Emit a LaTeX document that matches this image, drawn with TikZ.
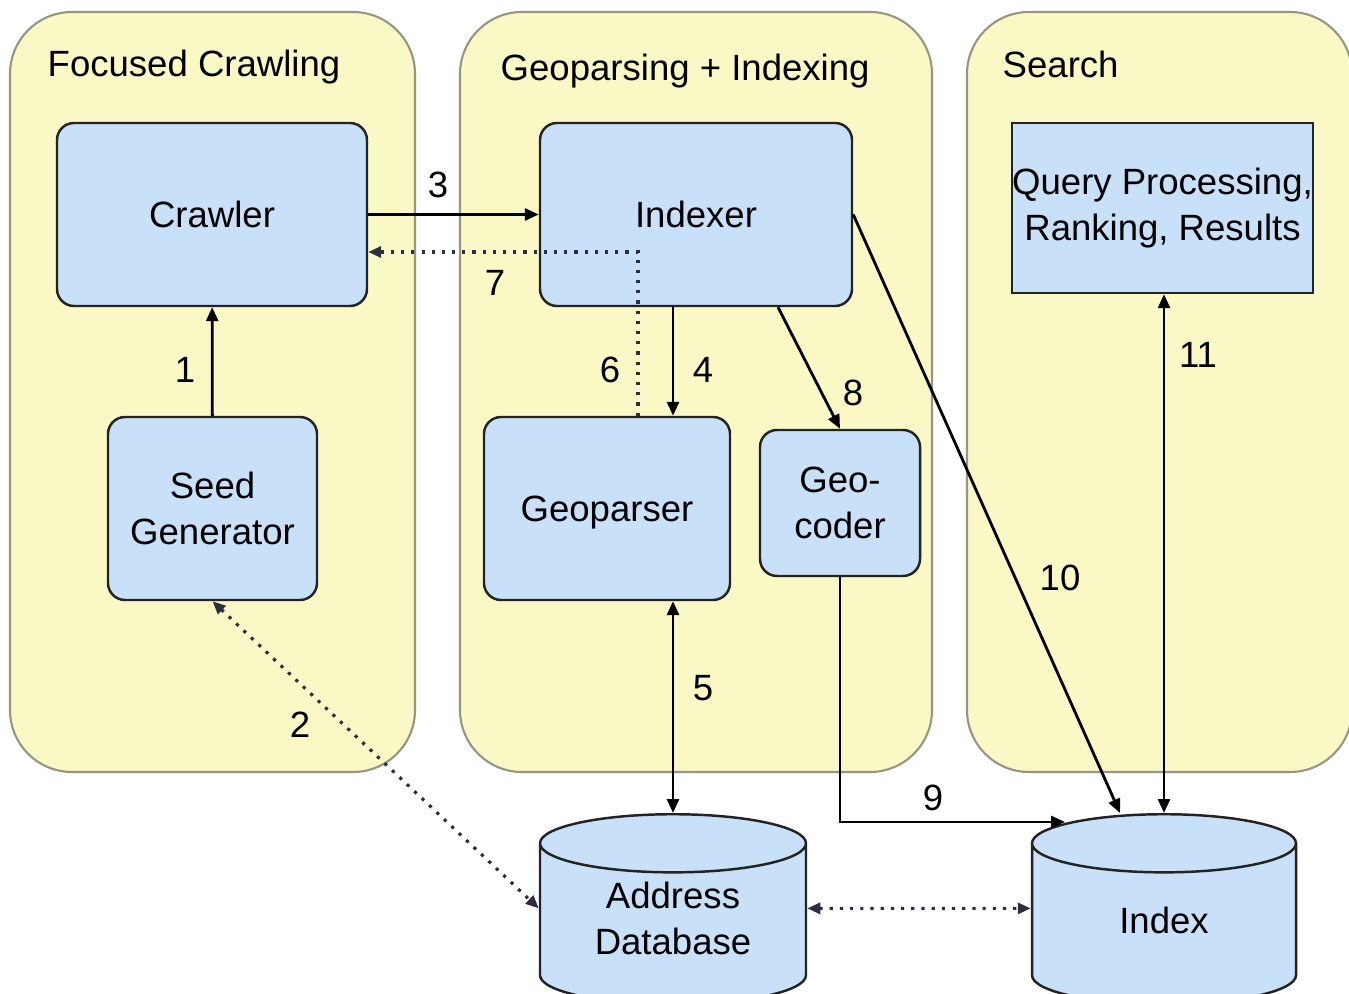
\documentclass[tikz,border=0pt]{standalone}
\usepackage{fontspec}
\setmainfont{Liberation Sans}
\usetikzlibrary{arrows.meta,shapes.geometric}

\definecolor{panelfill}{RGB}{250,248,196}
\definecolor{paneldraw}{RGB}{150,150,130}
\definecolor{boxfill}{RGB}{200,224,248}
\definecolor{boxdraw}{RGB}{35,35,35}
\definecolor{dotcol}{RGB}{45,45,65}

\begin{document}
\begin{tikzpicture}[
    font=\fontsize{10.4}{13}\selectfont,
    panel/.style={draw=paneldraw,fill=panelfill,rounded corners=6.2mm,line width=0.6pt},
    title/.style={anchor=west,inner sep=0pt},
    module/.style={draw=boxdraw,fill=boxfill,rounded corners=1.7mm,line width=0.7pt,align=center,inner sep=0pt},
    store/.style={cylinder,shape border rotate=90,aspect=0.65,anchor=north,draw=boxdraw,fill=boxfill,line width=0.7pt,inner sep=0pt,minimum width=2.66cm,minimum height=1.90cm},
    flow/.style={-{Triangle[length=1.4mm,width=1.2mm]},line width=0.8pt},
    bothflow/.style={{Triangle[length=1.4mm,width=1.2mm]}-{Triangle[length=1.4mm,width=1.2mm]},line width=0.8pt},
    dotflow/.style={dotted,dotcol,line width=0.9pt},
    num/.style={inner sep=0pt}
  ]
    \useasboundingbox (0,0) rectangle (13.49,-9.94);
    \clip (0,0) rectangle (13.49,-9.94);

    \draw[panel] (0.10,-0.12) rectangle (4.15,-7.72);
    \draw[panel] (4.60,-0.12) rectangle (9.32,-7.72);
    \draw[panel] (9.67,-0.12) rectangle (13.52,-7.72);

    \node[title] (tcrawl) at (0.47,-0.67) {Focused Crawling};
    \node[title] (tgeo) at (5.00,-0.71) {Geoparsing + Indexing};
    \node[title] (tsearch) at (10.02,-0.64) {Search};

    \node[module,minimum width=3.10cm,minimum height=1.83cm] (crawler) at (2.12,-2.145) {Crawler};
    \node[module,minimum width=2.09cm,minimum height=1.83cm] (seed) at (2.125,-5.085) {Seed\\Generator};
    \node[module,minimum width=3.12cm,minimum height=1.83cm] (indexer) at (6.96,-2.145) {Indexer};
    \node[module,minimum width=2.46cm,minimum height=1.83cm,text depth=-0.1cm] (geoparser) at (6.07,-5.085) {Geoparser};
    \node[module,minimum width=1.60cm,minimum height=1.46cm] (geocoder) at (8.40,-5.03) {Geo-\\coder};
    \node[module,rounded corners=0pt,minimum width=3.01cm,minimum height=1.70cm] (query) at (11.625,-2.08) {Query Processing,\\Ranking, Results};

    \node[store] (addrdb) at (6.73,-8.13) {\phantom{Index}};
    \node[store,minimum width=2.64cm] (index) at (11.64,-8.13) {\phantom{Index}};
    \node[align=center,inner sep=0pt] (addrtext) at (6.73,-9.185) {Address\\Database};
    \node[inner sep=0pt] (indextext) at (11.64,-9.20) {Index};

    \coordinate (idxin) at (10.65,-8.22);

    \draw[flow] (seed) -- (crawler);
    \draw[flow] (crawler.east) -- (indexer.west);
    \draw[flow] ([xshift=-2.3mm]indexer.south) -- ([xshift=-2.3mm]indexer.south |- geoparser.north);
    \draw[bothflow] (addrdb.north) -- (addrdb.north |- geoparser.south);
    \draw[flow] ([xshift=8.2mm]indexer.south) -- (geocoder.north);
    \draw[flow] (geocoder.south) |- (idxin);
    \draw[flow] (indexer.east) -- ([xshift=-4.4mm]index.north);
    \draw[bothflow] (index.north) -- (index.north |- query.south);

    \draw[dotflow,{Triangle[length=1.3mm,width=1.1mm]}-{Triangle[length=1.3mm,width=1.1mm]}] (seed.south) -- ([yshift=1.6mm]addrdb.west);
    \draw[dotflow,-{Triangle[length=1.3mm,width=1.1mm]}] ([xshift=3.1mm]geoparser.north) |- ([yshift=-3.75mm]crawler.east);
    \draw[dotflow,{Triangle[length=1.3mm,width=1.1mm]}-{Triangle[length=1.3mm,width=1.1mm]}] ([yshift=1.6mm]addrdb.east) -- ([yshift=1.6mm]index.west);

    \node[num] (n1) at (1.85,-3.70) {1};
    \node[num] (n2) at (3.00,-7.25) {2};
    \node[num] (n3) at (4.38,-1.85) {3};
    \node[num] (n4) at (7.03,-3.70) {4};
    \node[num] (n5) at (7.03,-6.88) {5};
    \node[num] (n6) at (6.10,-3.70) {6};
    \node[num] (n7) at (4.95,-2.83) {7};
    \node[num] (n8) at (8.53,-3.93) {8};
    \node[num] (n9) at (9.33,-7.98) {9};
    \node[num] (n10) at (10.60,-5.78) {10};
    \node[num] (n11) at (11.98,-3.55) {11};

  \end{tikzpicture}
\end{document}
